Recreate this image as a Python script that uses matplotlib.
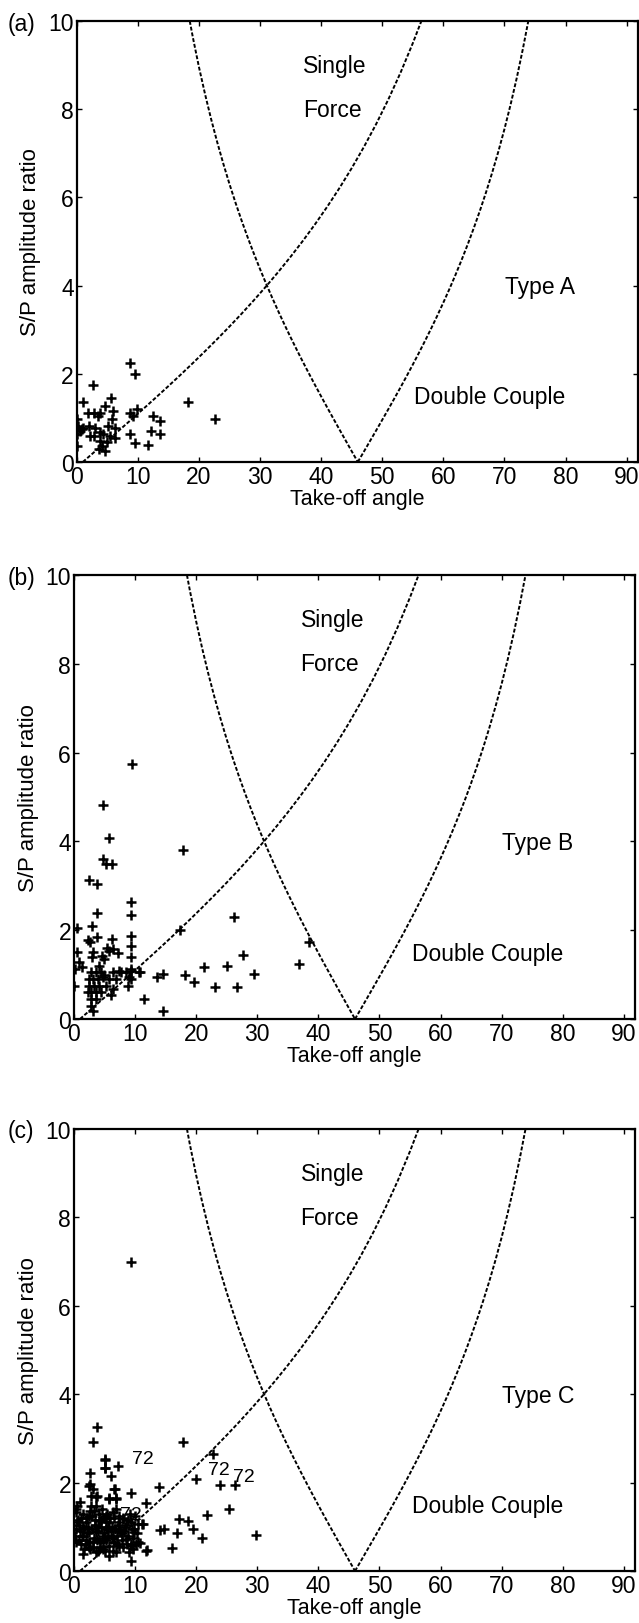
import numpy as np
import matplotlib
matplotlib.use("Agg")
import matplotlib.pyplot as plt

plt.rcParams['font.family'] = ['Liberation Sans', 'DejaVu Sans']

# ── theoretical boundary curves ───────────────────────────────────────────────
# single force branch, rising from ~1 deg
sf_up_x = [1, 3, 5, 7, 9, 11, 13, 15, 17, 19, 21, 23, 25, 27, 29, 31, 33, 35,
           37, 39, 41, 43, 45, 47, 49, 51, 53, 55, 56.4]
sf_up_y = [0.0, 0.241, 0.483, 0.725, 0.970, 1.217, 1.467, 1.720, 1.978, 2.242,
           2.512, 2.788, 3.072, 3.365, 3.669, 3.984, 4.312, 4.654, 5.013, 5.391,
           5.790, 6.213, 6.663, 7.145, 7.663, 8.223, 8.831, 9.497, 10.0]

# double couple branch, falling to ~46 deg
dc_down_x = [18.5, 19, 20, 21, 22, 23, 24, 25, 26, 27, 28, 29, 30, 31, 32, 33,
             34, 35, 36, 37, 38, 39, 40, 41, 42, 43, 44, 45, 46]
dc_down_y = [10.0, 9.635, 8.959, 8.343, 7.774, 7.249, 6.760, 6.303, 5.874,
             5.469, 5.086, 4.722, 4.374, 4.042, 3.722, 3.414, 3.116, 2.828,
             2.548, 2.274, 2.007, 1.745, 1.488, 1.234, 0.984, 0.736, 0.490,
             0.244, 0.0]

# double couple branch, rising again after ~46 deg
dc_up_x = [46, 47, 48, 49, 50, 51, 52, 53, 54, 55, 56, 57, 58, 59, 60, 61, 62,
           63, 64, 65, 66, 67, 68, 69, 70, 71, 72, 73, 73.9]
dc_up_y = [0.0, 0.237, 0.476, 0.715, 0.956, 1.199, 1.446, 1.695, 1.950, 2.209,
           2.475, 2.747, 3.027, 3.316, 3.616, 3.926, 4.249, 4.587, 4.940, 5.313,
           5.706, 6.123, 6.567, 7.041, 7.552, 8.104, 8.703, 9.360, 10.0]

# ── panel (a) : Type A ───────────────────────────────────────────────────────
a_x = [8.72, 9.54, 2.62, 1.08, 5.61, 18.27, 22.63, 1.9, 2.88, 3.81, 4.63, 3.54,
       5.99, 5.73, 6.27, 8.72, 9.82, 9.27, 12.54, 13.63, 12.1, 13.63, 8.72, 9.54,
       11.72, 6.27, 0.0, 0.27, 0.55, 0.1, 0.1, 0.82, 2.08, 2.97, 2.88, 3.81,
       3.81, 4.36, 3.72, 4.63, 4.9, 4.09, 5.45, 5.18, 1.08, 2.2]
a_y = [2.24, 1.99, 1.74, 1.36, 1.44, 1.36, 0.97, 1.12, 1.12, 1.12, 1.27, 1.05,
       1.16, 0.97, 0.78, 1.12, 1.2, 1.05, 1.05, 0.93, 0.71, 0.63, 0.63, 0.43,
       0.38, 0.54, 0.97, 0.82, 0.71, 0.63, 0.37, 0.75, 0.82, 0.78, 0.6, 0.67,
       0.48, 0.63, 0.29, 0.25, 0.45, 0.37, 0.6, 0.82, 0.78, 0.6]

# ── panel (b) : Type B ───────────────────────────────────────────────────────
b_x = [9.45, 4.71, 5.75, 4.71, 5.26, 6.3, 2.53, 3.73, 3.73, 17.92, 9.36, 9.36,
       9.36, 9.36, 9.36, 9.36, 9.36, 0.56, 2.9, 2.25, 2.62, 3.73, 6.18, 6.35,
       7.27, 5.36, 4.55, 3.18, 2.91, 0.45, 0.83, 0.18, 1.27, 0.0, 17.37, 26.27,
       27.74, 25.02, 21.35, 18.2, 19.66, 23.1, 26.75, 29.53, 14.64, 13.55, 10.82,
       11.53, 14.64, 36.84, 38.53,
       2.8, 3.62, 4.44, 3.07, 3.89, 4.71, 2.53, 3.34, 4.16, 5.25, 2.8, 3.62,
       4.44, 6.34, 2.8, 3.62, 2.8, 3.07, 5.8, 6.89, 7.71, 6.07, 4.98, 4.16,
       4.98, 5.8, 6.34, 7.44, 8.53, 9.34, 9.07, 8.8, 10.71, 2.53, 2.25]
b_y = [5.74, 4.83, 4.07, 3.6, 3.49, 3.49, 3.14, 3.04, 2.39, 3.81, 2.63, 2.34,
       1.88, 1.64, 1.39, 1.13, 0.9, 2.06, 2.1, 1.79, 1.73, 1.84, 1.8, 1.58,
       1.48, 1.61, 1.43, 1.5, 1.39, 1.5, 1.28, 1.13, 1.16, 0.75, 2.01, 2.29,
       1.44, 1.19, 1.16, 0.99, 0.83, 0.71, 0.71, 1.01, 1.01, 0.94, 1.05,
       0.45, 0.19, 1.24, 1.73,
       1.05, 1.05, 1.05, 0.9, 0.9, 0.94, 0.75, 0.75, 0.75, 0.75, 0.6, 0.6,
       0.6, 0.68, 0.45, 0.45, 0.3, 0.19, 0.9, 0.9, 1.05, 0.53, 0.98, 1.2,
       1.35, 1.53, 1.05, 1.09, 1.05, 1.09, 0.94, 0.75, 1.05, 0.9, 0.6]

# ── panel (c) : Type C ───────────────────────────────────────────────────────
c_x = [9.4, 3.8, 3.15, 17.83, 22.83, 5.16, 5.16, 7.23, 2.61, 6.14, 2.61, 3.15,
       6.79, 9.4, 13.86, 19.95, 23.9, 26.36, 3.8, 5.7, 6.96, 11.85, 25.43, 21.74,
       17.12, 18.75, 19.57, 14.02, 14.78, 16.85, 20.92, 29.78, 16.03, 11.96, 9.4,
       11.14, 10.76, 0.98, 0.43, 0.27,
       0.34, 1.44, 0.89, 1.44, 0.34, 1.44, 2.53, 3.62, 4.71, 5.8, 6.34, 7.44,
       8.53, 9.34, 9.89, 10.43, 11.25, 10.43, 9.34, 9.07, 11.8, 8.53, 7.44, 3.62,
       2.8, 2.53, 4.16, 5.25, 6.34, 6.89, 5.25, 3.62, 2.53, 1.98, 5.8, 4.71,
       3.07, 6.89, 5.8, 7.98, 2.52, 2.8, 3.6, 5.14, 5.14, 6.6, 5.8, 6.89,
       1.0, 1.5, 2.0, 2.3, 3.0, 3.3, 3.5, 4.0, 4.3, 4.5, 5.0, 5.2, 5.5, 6.0,
       6.5, 7.0, 7.2, 7.8, 8.2, 9.5, 9.6, 10.0, 0.5, 0.2, 1.2, 2.7, 3.9, 4.9,
       6.6, 8.0, 9.1,
       0.6, 1.1, 1.7, 2.2, 2.9, 3.4, 3.9, 4.4, 4.8, 5.3, 5.9, 6.3, 6.8, 7.4,
       7.9, 8.4, 8.9, 9.9, 10.4,
       0.8, 1.3, 1.9, 2.4, 3.1, 3.7, 4.2, 4.7, 5.6, 6.2, 7.1, 7.6, 8.7, 9.3, 10.2,
       0.4, 1.6, 2.1, 2.6, 3.3, 4.1, 4.6, 5.1, 5.4, 6.4, 7.3, 8.1, 8.8, 9.7]
c_y = [6.98, 3.25, 2.91, 2.91, 2.64, 2.53, 2.34, 2.38, 2.21, 2.15, 1.96, 1.85,
       1.86, 1.77, 1.91, 2.08, 1.94, 1.94, 1.7, 1.66, 1.66, 1.53, 1.41, 1.26,
       1.18, 1.13, 0.94, 0.93, 0.94, 0.87, 0.75, 0.81, 0.53, 0.48, 0.23,
       1.06, 0.64, 1.55, 1.46, 1.4,
       1.33, 1.29, 1.03, 0.8, 0.65, 0.38, 0.54, 0.42, 0.5, 0.57, 0.8, 0.95,
       1.03, 1.1, 0.88, 1.06, 1.06, 0.65, 0.57, 0.42, 0.46, 0.72, 0.57, 1.48,
       1.48, 1.25, 1.14, 1.25, 1.33, 1.4, 0.95, 0.88, 0.88, 1.1, 1.1, 0.8,
       0.65, 0.42, 0.34, 1.18, 1.93, 1.7, 1.67, 2.51, 2.32, 1.85, 1.63, 1.63,
       0.9, 1.0, 0.7, 1.0, 0.95, 0.75, 1.05, 0.9, 0.65, 1.0, 0.85, 0.7, 1.0, 0.9,
       0.65, 0.8, 1.05, 0.7, 0.9, 0.95, 0.75, 1.25, 1.1, 0.8, 0.6, 0.5, 0.45, 1.2,
       1.2, 0.55, 1.3,
       1.15, 1.2, 0.95, 0.85, 1.25, 1.15, 1.0, 1.15, 0.75, 1.1, 1.2, 1.0, 0.95,
       1.1, 0.85, 1.0, 0.8, 0.95, 0.85,
       0.7, 0.8, 0.6, 0.65, 0.55, 0.7, 0.55, 0.65, 0.8, 0.75, 0.6, 0.9, 0.6, 0.6, 0.6,
       0.95, 0.5, 1.2, 1.35, 1.35, 1.3, 1.4, 0.45, 1.3, 0.45, 1.25, 1.2, 1.15, 0.5]

# event labels "72" in panel (c)
c_lab_x = [9.5, 22.0, 26.0, 7.6]
c_lab_y = [2.54, 2.29, 2.14, 1.28]
c_lab_txt = ['72', '72', '72', '72']

panels = [
    ('(a)', 'Type A', a_x, a_y, [76.7, 463, 441]),
    ('(b)', 'Type B', b_x, b_y, [73.9, 1020, 444]),
    ('(c)', 'Type C', c_x, c_y, [73.9, 1572, 442]),
]

W, H = 639, 1624
fig = plt.figure(figsize=(W / 100, H / 100), dpi=100)

for tag, typ, xs, ys, (left, bottom, height) in panels:
    ax = fig.add_axes([left / W, 1 - bottom / H, 561 / W, height / H])

    for cx, cy in [(sf_up_x, sf_up_y), (dc_down_x, dc_down_y), (dc_up_x, dc_up_y)]:
        ax.plot(cx, cy, color='black', lw=1.4, ls=(0, (2.0, 1.0)))

    ax.plot(xs, ys, '+', color='black', ms=7.5, mew=1.8)

    ax.text(37.1, 9.0, 'Single', fontsize=16.5, va='center')
    ax.text(37.1, 8.0, 'Force', fontsize=16.5, va='center')
    ax.text(70.1, 3.98, typ, fontsize=16.5, va='center')
    ax.text(55.25, 1.48, 'Double Couple', fontsize=16.5, va='center')

    if typ == 'Type C':
        for lx, ly, t in zip(c_lab_x, c_lab_y, c_lab_txt):
            ax.text(lx, ly, t, fontsize=14, va='center')

    ax.set_xlim(0, 91.8)
    ax.set_ylim(0, 10)
    ax.set_xticks(np.arange(0, 91, 10))
    ax.set_yticks(np.arange(0, 11, 2))
    ax.tick_params(direction='in', top=True, right=True, length=3.6,
                   width=1.0, labelsize=16.5, pad=2)
    for sp in ax.spines.values():
        sp.set_linewidth(1.6)
    ax.set_xlabel('Take-off angle', fontsize=15.5, labelpad=0)
    ax.set_ylabel('S/P amplitude ratio', fontsize=16, labelpad=5)

    fig.text(8 / W, 1 - (bottom - height + 2) / H, tag, fontsize=16.5,
             va='center', ha='left')

fig.savefig('out.png', dpi=100)
